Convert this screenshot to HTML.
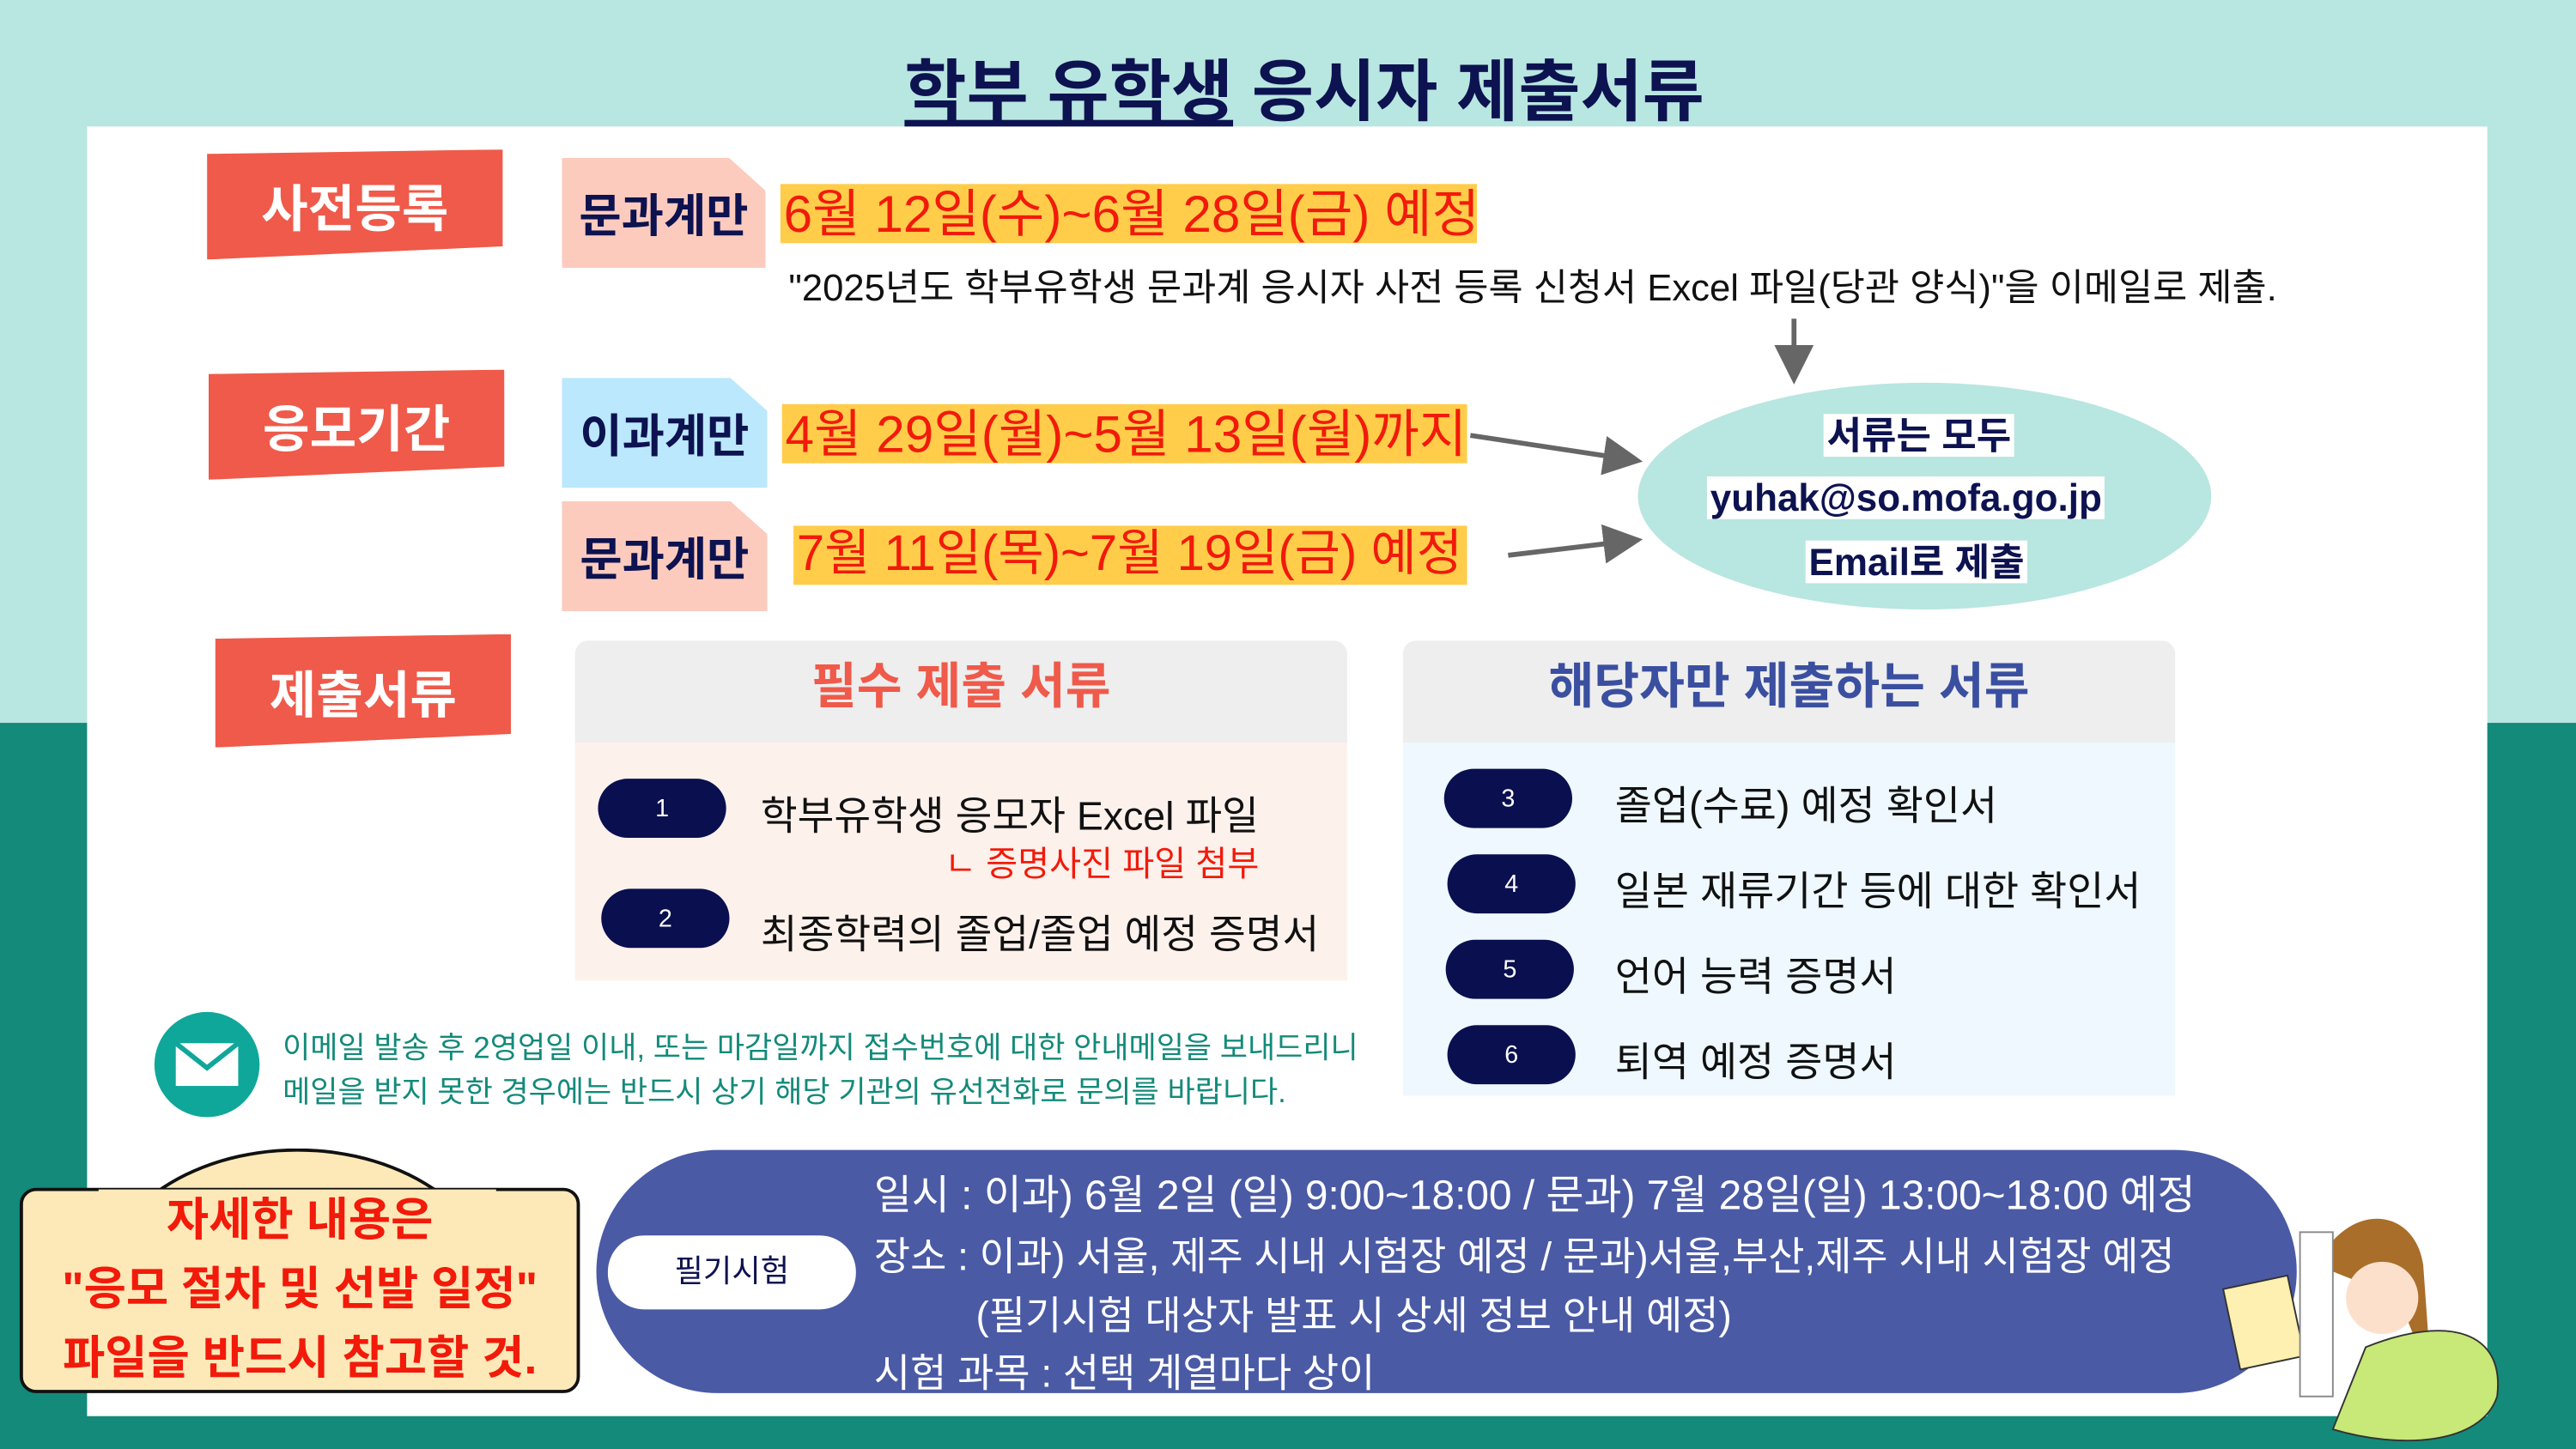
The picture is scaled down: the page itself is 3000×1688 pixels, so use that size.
<!DOCTYPE html>
<html><head><meta charset="utf-8"><style>
*{margin:0;padding:0;box-sizing:border-box}
html,body{width:3000px;height:1688px;overflow:hidden;background:#138a7a}
#s{position:absolute;left:0;top:0;width:1568px;height:882px;transform:scale(1.91327,1.91383);transform-origin:0 0;font-family:"Liberation Sans","Noto Sans CJK KR",sans-serif;color:#0d1250}
.a{position:absolute;white-space:nowrap}
.lab{position:absolute;background:#ef5a4a;color:#fff;font-weight:bold;font-size:31px;display:flex;align-items:center;justify-content:center;box-shadow:8px 8px 8px rgba(239,90,74,.35);clip-path:polygon(0 4%,100% 0,100% 88%,0 100%)}
.tag{position:absolute;font-weight:bold;font-size:28px;display:flex;align-items:center;justify-content:center;clip-path:polygon(0 0,82% 0,100% 30%,100% 100%,0 100%)}
.hl{position:absolute;background:#ffcd4a;color:#f21a0a;font-size:31.5px;line-height:36px;white-space:nowrap;padding:0 2px;overflow:hidden}
.pill{position:absolute;background:#0a0f4f;color:#fff;border-radius:18px;width:78px;height:36px;font-size:15px;display:flex;align-items:center;justify-content:center}
.t{position:absolute;white-space:nowrap;font-size:24px;color:#111}
.el{position:absolute;white-space:nowrap;font-weight:bold;font-size:23px;background:#fff;line-height:26px;padding:0 2px}
</style></head><body><div id="s">
<div class="a" style="left:0;top:0;width:1568px;height:440px;background:#b8e6e0"></div>
<div class="a" style="left:53px;top:77px;width:1461px;height:785px;background:#fff"></div>
<div class="a" style="left:10px;width:1568px;top:22px;text-align:center;font-size:41px;font-weight:bold;color:#0d1250"><span style="text-decoration:underline">학부 유학생</span> 응시자 제출서류</div>

<div class="lab" style="left:126px;top:91px;width:180px;height:67px">사전등록</div>
<div class="lab" style="left:127px;top:225px;width:180px;height:67px">응모기간</div>
<div class="lab" style="left:131px;top:386px;width:180px;height:69px">제출서류</div>

<div class="tag" style="left:342px;top:96px;width:124px;height:67px;background:#fccbbd">문과계만</div>
<div class="tag" style="left:342px;top:230px;width:125px;height:67px;background:#bbe8fc">이과계만</div>
<div class="tag" style="left:342px;top:305px;width:125px;height:67px;background:#fccbbd">문과계만</div>

<div class="hl" style="left:475px;top:112px;width:424px">6월 12일(수)~6월 28일(금) 예정</div>
<div class="hl" style="left:476px;top:246px;width:417px">4월 29일(월)~5월 13일(월)까지</div>
<div class="hl" style="left:483px;top:320px;width:410px;font-size:30.3px">7월 11일(목)~7월 19일(금) 예정</div>
<div class="a" style="left:480px;top:157px;font-size:22.8px;color:#111">"2025년도 학부유학생 문과계 응시자 사전 등록 신청서 Excel 파일(당관 양식)"을 이메일로 제출.</div>

<svg class="a" style="left:0;top:0" width="1568" height="882"><defs><marker id="m" markerWidth="8" markerHeight="8" refX="6" refY="4" orient="auto"><path d="M0,0L8,4L0,8z" fill="#666"/></marker></defs>
<g stroke="#666" stroke-width="3" marker-end="url(#m)"><line x1="1092" y1="194" x2="1092" y2="228"/><line x1="895" y1="265" x2="994" y2="280"/><line x1="918" y1="338" x2="994" y2="329"/></g></svg>

<div class="a" style="left:997px;top:233px;width:349px;height:138px;border-radius:50%;background:#b8e6e0"></div>
<div class="el" style="left:1110px;top:252px">서류는 모두</div>
<div class="el" style="left:1039px;top:290px">yuhak@so.mofa.go.jp</div>
<div class="el" style="left:1099px;top:329px">Email로 제출</div>

<div class="a" style="left:350px;top:390px;width:470px;height:62px;background:#eee;border-radius:8px 8px 0 0;text-align:center;font-size:30px;font-weight:bold;color:#ef5a4a;line-height:58px">필수 제출 서류</div>
<div class="a" style="left:350px;top:452px;width:470px;height:145px;background:#fdf1ec"></div>
<div class="a" style="left:854px;top:390px;width:470px;height:62px;background:#eee;border-radius:8px 8px 0 0;text-align:center;font-size:30px;font-weight:bold;color:#3a4fa0;line-height:58px">해당자만 제출하는 서류</div>
<div class="a" style="left:854px;top:452px;width:470px;height:215px;background:#eef8fe"></div>

<div class="pill" style="left:364px;top:474px">1</div>
<div class="pill" style="left:366px;top:541px">2</div>
<div class="t" style="left:463px;top:477px;font-size:24.3px">학부유학생 응모자 Excel 파일</div>
<div class="t" style="left:575px;top:510px;font-size:21px;color:#f21a0a">ㄴ 증명사진 파일 첨부</div>
<div class="t" style="left:463px;top:549px;font-size:24.3px">최종학력의 졸업/졸업 예정 증명서</div>

<div class="pill" style="left:879px;top:468px">3</div>
<div class="pill" style="left:881px;top:520px">4</div>
<div class="pill" style="left:880px;top:572px">5</div>
<div class="pill" style="left:881px;top:624px">6</div>
<div class="t" style="left:983px;top:472px;font-size:24.5px">졸업(수료) 예정 확인서</div>
<div class="t" style="left:983px;top:524px;font-size:24.5px">일본 재류기간 등에 대한 확인서</div>
<div class="t" style="left:983px;top:576px;font-size:24.5px">언어 능력 증명서</div>
<div class="t" style="left:983px;top:628px;font-size:24.5px">퇴역 예정 증명서</div>

<div class="a" style="left:94px;top:616px;width:64px;height:64px;border-radius:50%;background:#0fa79a"></div>
<svg class="a" style="left:106px;top:634px" width="40" height="28"><rect x="1" y="1" width="38" height="26" fill="#fff"/><path d="M1,1L20,16L39,1" fill="none" stroke="#0fa79a" stroke-width="3"/></svg>
<div class="a" style="left:172px;top:624px;font-size:18.3px;color:#138a7a">이메일 발송 후 2영업일 이내, 또는 마감일까지 접수번호에 대한 안내메일을 보내드리니</div>
<div class="a" style="left:172px;top:651px;font-size:18.3px;color:#138a7a">메일을 받지 못한 경우에는 반드시 상기 해당 기관의 유선전화로 문의를 바랍니다.</div>

<div class="a" style="left:363px;top:700px;width:1035px;height:148px;background:#4a5aa5;border-radius:74px"></div>
<div class="a" style="left:370px;top:752px;width:151px;height:45px;background:#fff;border-radius:22px;font-size:19px;text-align:center;line-height:45px;color:#0d1250">필기시험</div>
<div class="a" style="left:532px;top:708px;font-size:25px;color:#fff">일시 : 이과) 6월 2일 (일) 9:00~18:00 / 문과) 7월 28일(일) 13:00~18:00 예정</div>
<div class="a" style="left:532px;top:745px;font-size:24px;color:#fff">장소 : 이과) 서울, 제주 시내 시험장 예정 / 문과)서울,부산,제주 시내 시험장 예정</div>
<div class="a" style="left:594px;top:781px;font-size:24px;color:#fff">(필기시험 대상자 발표 시 상세 정보 안내 예정)</div>
<div class="a" style="left:532px;top:816px;font-size:24px;color:#fff">시험 과목 : 선택 계열마다 상이</div>

<div class="a" style="left:58px;top:699px;width:246px;height:90px;border-radius:50% 50% 0 0/100% 100% 0 0;background:#fde9b8;border:2px solid #111;border-bottom:none"></div>
<div class="a" style="left:12px;top:723px;width:341px;height:125px;background:#fde9b8;border:2px solid #111;border-radius:10px"></div>
<div class="a" style="left:60px;top:724px;width:242px;height:10px;background:#fde9b8"></div>
<div class="a" style="left:12px;top:722px;width:341px;text-align:center;font-size:28px;font-weight:bold;color:#f21a0a;line-height:42px">자세한 내용은<br>"응모 절차 및 선발 일정"<br>파일을 반드시 참고할 것.</div>

<svg class="a" style="left:1350px;top:730px" width="180" height="152">
<path d="M60,40 C80,0 120,5 125,40 L130,110 L110,60 Z" fill="#a86e2a"/>
<circle cx="100" cy="60" r="22" fill="#fde0cc"/>
<path d="M90,90 C140,70 175,80 170,120 C160,150 110,152 70,140 Z" fill="#c8e878" stroke="#333" stroke-width="1"/>
<rect x="8" y="50" width="40" height="50" fill="#fdf0b0" stroke="#333" transform="rotate(-12 28 75)"/>
<rect x="50" y="20" width="20" height="100" fill="#fff" stroke="#888"/>
</svg>
</div></body></html>
